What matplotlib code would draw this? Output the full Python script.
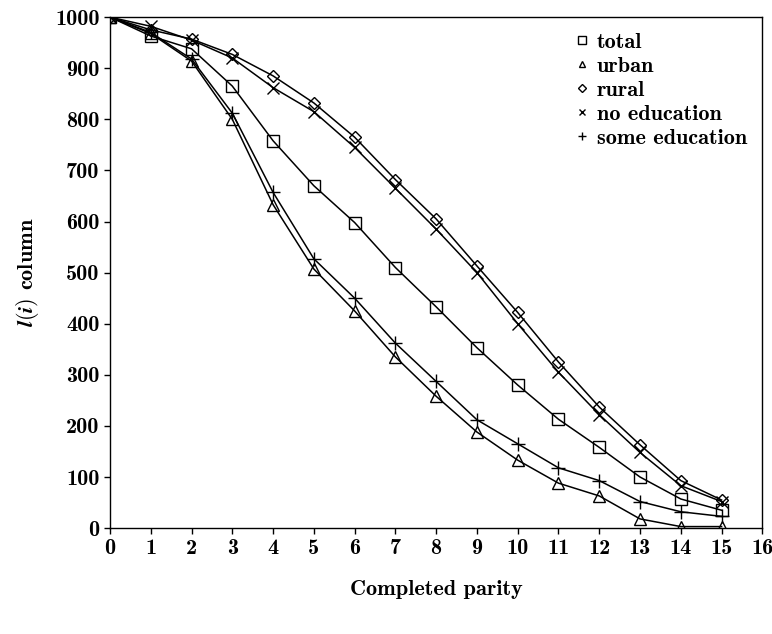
import matplotlib
matplotlib.use('Agg')
import matplotlib.pyplot as plt

parity = list(range(16))
total = [1000, 963, 938, 865, 758, 670, 598, 510, 433, 353, 280, 213, 158, 100, 57, 35]
urban = [1000, 968, 914, 800, 633, 507, 425, 335, 258, 188, 133, 88, 63, 18, 3, 3]
rural = [1000, 975, 957, 927, 885, 832, 765, 682, 605, 513, 422, 325, 237, 163, 93, 55]
no_edu = [1000, 982, 955, 920, 862, 815, 745, 665, 585, 500, 400, 305, 222, 148, 83, 52]
some_edu = [1000, 970, 918, 812, 657, 527, 450, 362, 287, 212, 165, 118, 93, 52, 32, 23]

plt.rcParams['font.family'] = ['cmb10', 'DejaVu Serif']
plt.rcParams['mathtext.fontset'] = 'cm'
plt.rcParams['axes.unicode_minus'] = False

fig = plt.figure(figsize=(7.72, 6.34), dpi=100)
ax = fig.add_axes([0.1425, 0.167, 0.845, 0.806])

series = [
    (total, 's', 'total', 9),
    (urban, '^', 'urban', 8),
    (rural, 'D', 'rural', 6.5),
    (no_edu, 'x', 'no education', 8),
    (some_edu, '+', 'some education', 10),
]
for vals, mk, lab, ms in series:
    ax.plot(parity, vals, color='black', lw=1.1, marker=mk, markersize=ms,
            markerfacecolor='none', markeredgecolor='black', markeredgewidth=1.0,
            label=lab)

ax.set_xlim(0, 16)
ax.set_ylim(0, 1000)
ax.set_xticks(range(17))
ax.set_yticks(range(0, 1001, 100))
ax.tick_params(direction='out', length=4, width=1, labelsize=16)
for s in ax.spines.values():
    s.set_linewidth(1.0)

ax.set_xlabel('Completed parity', fontsize=16, labelpad=16)
ax.set_ylabel('$\\boldsymbol{l(i)}$ column', fontsize=16, labelpad=10)

leg = ax.legend(loc='upper right', frameon=False, fontsize=16, handlelength=0.5,
                handletextpad=0.4, labelspacing=0.2, markerscale=0.6,
                bbox_to_anchor=(1.0, 1.0), borderaxespad=0.3)
for h in leg.legend_handles:
    h.set_linestyle('none')

fig.savefig('out.png', dpi=100)
